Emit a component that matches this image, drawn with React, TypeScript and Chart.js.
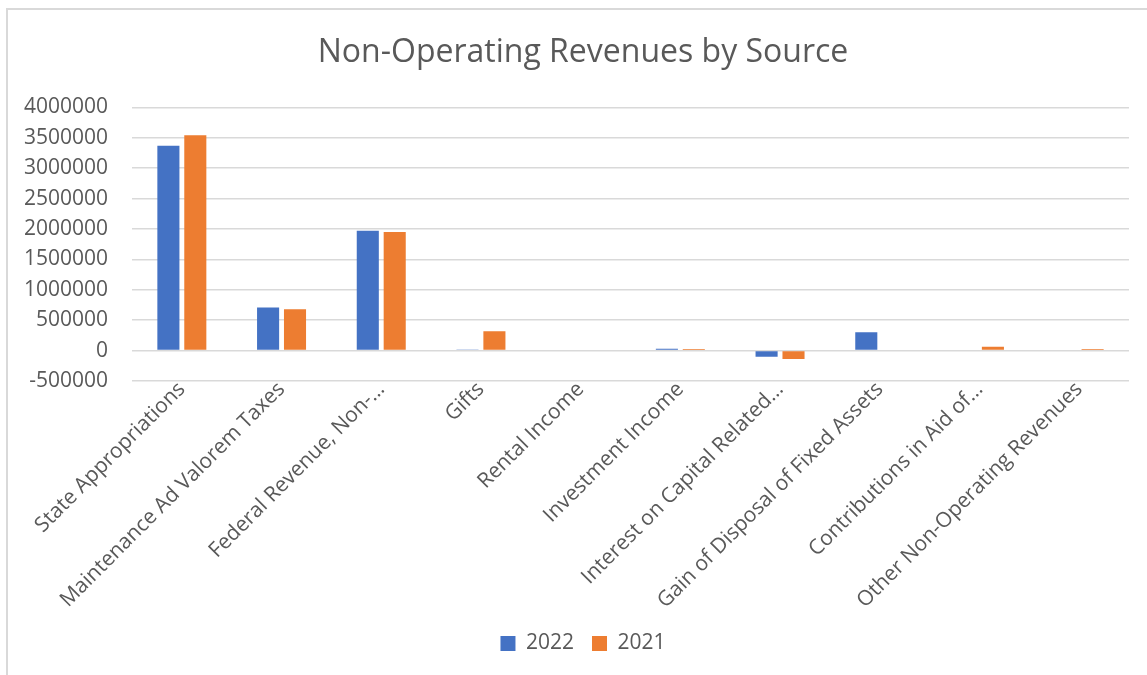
import React, { useEffect, useRef } from "react";
import { Chart, registerables } from "chart.js";

Chart.register(...registerables);

const categories = [
  "State Appropriations",
  "Maintenance Ad Valorem Taxes",
  "Federal Revenue, Non-…",
  "Gifts",
  "Rental Income",
  "Investment Income",
  "Interest on Capital Related…",
  "Gain of Disposal of Fixed Assets",
  "Contributions in Aid of…",
  "Other Non-Operating Revenues",
];

const values2022 = [3370000, 710000, 1970000, 10000, 0, 30000, -100000, 300000, 0, 0];
const values2021 = [3540000, 680000, 1950000, 320000, 0, 25000, -140000, 0, 65000, 25000];

const yMin = -500000;
const yMax = 4000000;
const yStep = 500000;

const FONT = "'Open Sans', sans-serif";
const TEXT = "#595959";
const GRID = "#d9d9d9";

const CANVAS_W = 1166;
const CANVAS_H = 675;

const centerBlocks = {
  id: "centerBlocks",
  afterLayout(chart: any) {
    if (chart.titleBlock) {
      chart.titleBlock.left = 0;
      chart.titleBlock.right = CANVAS_W;
    }
    if (chart.legend) {
      chart.legend.left = 0;
      chart.legend.right = CANVAS_W;
    }
  },
};

export default function App() {
  const ref = useRef<HTMLCanvasElement | null>(null);

  useEffect(() => {
    if (!ref.current) return;
    const chart = new Chart(ref.current, {
      type: "bar",
      data: {
        labels: categories,
        datasets: [
          {
            label: "2022",
            data: values2022,
            backgroundColor: "#4472C4",
            categoryPercentage: 0.54,
            barPercentage: 0.82,
          },
          {
            label: "2021",
            data: values2021,
            backgroundColor: "#ED7D31",
            categoryPercentage: 0.54,
            barPercentage: 0.82,
          },
        ],
      },
      plugins: [centerBlocks],
      options: {
        animation: false,
        responsive: false,
        maintainAspectRatio: false,
        layout: { padding: { left: 0, right: 37, top: 0, bottom: 11 } },
        plugins: {
          title: {
            display: true,
            text: "Non-Operating Revenues by Source",
            color: TEXT,
            font: { family: FONT, size: 32, weight: "normal" },
            padding: { top: 34, bottom: 35 },
          },
          legend: {
            position: "bottom",
            labels: {
              color: TEXT,
              font: { family: FONT, size: 21 },
              boxWidth: 15,
              boxHeight: 15,
              padding: 18,
            },
          },
          tooltip: { enabled: false },
        },
        scales: {
          x: {
            grid: { display: false },
            border: { display: false },
            ticks: {
              color: TEXT,
              font: { family: FONT, size: 21 },
              minRotation: 45,
              maxRotation: 45,
              autoSkip: false,
              padding: -12,
            },
            afterFit: (scale: any) => {
              scale.height = 234;
            },
          },
          y: {
            min: yMin,
            max: yMax,
            grid: { color: GRID, lineWidth: 1.5, drawTicks: false },
            border: { display: false },
            ticks: {
              stepSize: yStep,
              color: TEXT,
              font: { family: FONT, size: 21 },
              padding: 24,
              callback: (v: any) => String(v),
            },
            afterFit: (scale: any) => {
              scale.width = 132;
            },
          },
        },
      },
    });
    return () => chart.destroy();
  }, []);

  return (
    <div
      style={{
        position: "absolute",
        left: 0,
        top: 0,
        width: 1147,
        height: 675,
        overflow: "hidden",
        background: "#fff",
      }}
    >
      <canvas
        ref={ref}
        width={CANVAS_W}
        height={CANVAS_H}
        style={{ position: "absolute", left: 0, top: 0 }}
      />
      <div
        style={{
          position: "absolute",
          left: 6,
          top: 8,
          width: 1200,
          height: 700,
          borderLeft: "2px solid #d9d9d9",
          borderTop: "2px solid #d9d9d9",
          pointerEvents: "none",
        }}
      />
    </div>
  );
}
